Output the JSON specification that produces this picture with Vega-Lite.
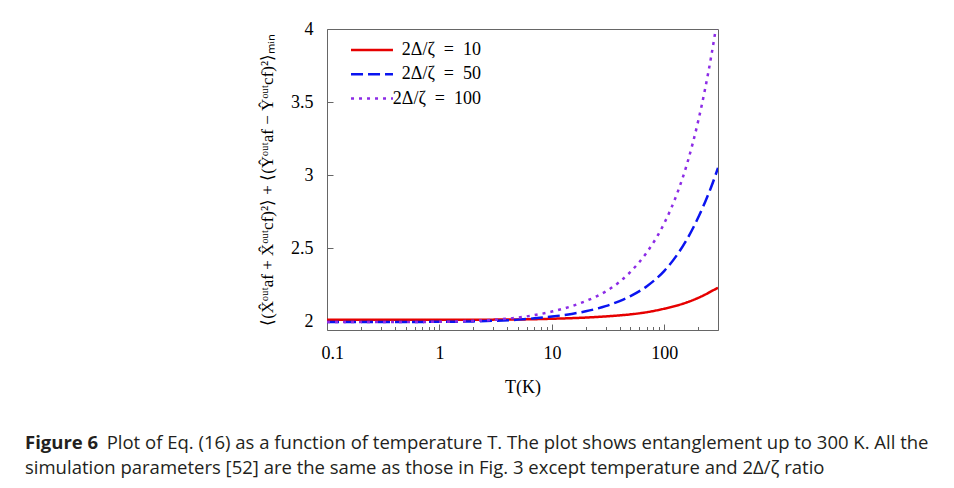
{
  "$schema": "https://vega.github.io/schema/vega-lite/v6.json",
  "width": 391,
  "height": 301,
  "autosize": {"type": "none"},
  "padding": {"left": 327, "top": 29, "right": 236, "bottom": 158},
  "background": "white",
  "config": {
    "view": {"stroke": "#666", "strokeWidth": 1},
    "font": "Liberation Serif"
  },
  "data": {
    "values": [
      {"s": "2Δ/ζ = 10", "T": 0.1, "v": 2.01},
      {"s": "2Δ/ζ = 10", "T": 0.3, "v": 2.01},
      {"s": "2Δ/ζ = 10", "T": 1, "v": 2.01},
      {"s": "2Δ/ζ = 10", "T": 3, "v": 2.011},
      {"s": "2Δ/ζ = 10", "T": 5, "v": 2.012},
      {"s": "2Δ/ζ = 10", "T": 7, "v": 2.014},
      {"s": "2Δ/ζ = 10", "T": 10, "v": 2.017},
      {"s": "2Δ/ζ = 10", "T": 15, "v": 2.021},
      {"s": "2Δ/ζ = 10", "T": 20, "v": 2.025},
      {"s": "2Δ/ζ = 10", "T": 30, "v": 2.033},
      {"s": "2Δ/ζ = 10", "T": 40, "v": 2.04},
      {"s": "2Δ/ζ = 10", "T": 50, "v": 2.047},
      {"s": "2Δ/ζ = 10", "T": 70, "v": 2.062},
      {"s": "2Δ/ζ = 10", "T": 100, "v": 2.086},
      {"s": "2Δ/ζ = 10", "T": 130, "v": 2.108},
      {"s": "2Δ/ζ = 10", "T": 160, "v": 2.13},
      {"s": "2Δ/ζ = 10", "T": 200, "v": 2.16},
      {"s": "2Δ/ζ = 10", "T": 230, "v": 2.182},
      {"s": "2Δ/ζ = 10", "T": 260, "v": 2.204},
      {"s": "2Δ/ζ = 10", "T": 300, "v": 2.229},
      {"s": "2Δ/ζ = 50", "T": 0.1, "v": 1.995},
      {"s": "2Δ/ζ = 50", "T": 0.3, "v": 1.995},
      {"s": "2Δ/ζ = 50", "T": 1, "v": 1.996},
      {"s": "2Δ/ζ = 50", "T": 2, "v": 1.999},
      {"s": "2Δ/ζ = 50", "T": 3, "v": 2.003},
      {"s": "2Δ/ζ = 50", "T": 5, "v": 2.011},
      {"s": "2Δ/ζ = 50", "T": 7, "v": 2.02},
      {"s": "2Δ/ζ = 50", "T": 10, "v": 2.032},
      {"s": "2Δ/ζ = 50", "T": 15, "v": 2.05},
      {"s": "2Δ/ζ = 50", "T": 20, "v": 2.068},
      {"s": "2Δ/ζ = 50", "T": 30, "v": 2.103},
      {"s": "2Δ/ζ = 50", "T": 40, "v": 2.138},
      {"s": "2Δ/ζ = 50", "T": 50, "v": 2.172},
      {"s": "2Δ/ζ = 50", "T": 70, "v": 2.24},
      {"s": "2Δ/ζ = 50", "T": 100, "v": 2.345},
      {"s": "2Δ/ζ = 50", "T": 130, "v": 2.455},
      {"s": "2Δ/ζ = 50", "T": 160, "v": 2.565},
      {"s": "2Δ/ζ = 50", "T": 200, "v": 2.71},
      {"s": "2Δ/ζ = 50", "T": 230, "v": 2.815},
      {"s": "2Δ/ζ = 50", "T": 260, "v": 2.915},
      {"s": "2Δ/ζ = 50", "T": 300, "v": 3.05},
      {"s": "2Δ/ζ = 100", "T": 0.1, "v": 1.995},
      {"s": "2Δ/ζ = 100", "T": 0.3, "v": 1.995},
      {"s": "2Δ/ζ = 100", "T": 1, "v": 1.996},
      {"s": "2Δ/ζ = 100", "T": 2, "v": 2.003},
      {"s": "2Δ/ζ = 100", "T": 3, "v": 2.01},
      {"s": "2Δ/ζ = 100", "T": 5, "v": 2.025},
      {"s": "2Δ/ζ = 100", "T": 7, "v": 2.042},
      {"s": "2Δ/ζ = 100", "T": 10, "v": 2.066},
      {"s": "2Δ/ζ = 100", "T": 15, "v": 2.103},
      {"s": "2Δ/ζ = 100", "T": 20, "v": 2.138},
      {"s": "2Δ/ζ = 100", "T": 30, "v": 2.203},
      {"s": "2Δ/ζ = 100", "T": 40, "v": 2.27},
      {"s": "2Δ/ζ = 100", "T": 50, "v": 2.338},
      {"s": "2Δ/ζ = 100", "T": 70, "v": 2.472},
      {"s": "2Δ/ζ = 100", "T": 100, "v": 2.672},
      {"s": "2Δ/ζ = 100", "T": 130, "v": 2.875},
      {"s": "2Δ/ζ = 100", "T": 160, "v": 3.083},
      {"s": "2Δ/ζ = 100", "T": 200, "v": 3.37},
      {"s": "2Δ/ζ = 100", "T": 230, "v": 3.587},
      {"s": "2Δ/ζ = 100", "T": 260, "v": 3.805},
      {"s": "2Δ/ζ = 100", "T": 280, "v": 3.952},
      {"s": "2Δ/ζ = 100", "T": 300, "v": 4.1}
    ]
  },
  "mark": {"type": "line", "strokeWidth": 2.5, "clip": true, "interpolate": "monotone", "strokeCap": "butt"},
  "encoding": {
    "x": {
      "field": "T",
      "type": "quantitative",
      "title": "T(K)",
      "scale": {"type": "log", "domain": [0.1, 300], "nice": false},
      "axis": {
        "domain": false,
        "grid": false,
        "values": [0.1, 0.2, 0.3, 0.4, 0.5, 0.6, 0.7, 0.8, 0.9, 1, 2, 3, 4, 5, 6, 7, 8, 9, 10, 20, 30, 40, 50, 60, 70, 80, 90, 100, 200, 300],
        "labelExpr": "indexof([0.1, 1, 10, 100], datum.value) >= 0 ? '' + datum.value : ''",
        "tickSize": {"condition": {"test": "indexof([0.1, 1, 10, 100], datum.value) >= 0", "value": -6}, "value": -3.5},
        "tickColor": "#666",
        "labelFont": "Liberation Serif",
        "labelFontSize": 18,
        "labelColor": "black",
        "labelPadding": 20,
        "labelOverlap": false,
        "labelFlush": true,
        "labelFlushOffset": 6,
        "titleFont": "Liberation Serif",
        "titleFontSize": 18,
        "titleFontWeight": "normal",
        "titleColor": "black",
        "titlePadding": 14
      }
    },
    "y": {
      "field": "v",
      "type": "quantitative",
      "title": "⟨(X̂ᵒᵘᵗaf + X̂ᵒᵘᵗcf)²⟩ + ⟨(Ŷᵒᵘᵗaf − Ŷᵒᵘᵗcf)²⟩ₘᵢₙ",
      "scale": {"domain": [1.94, 4], "nice": false, "zero": false},
      "axis": {
        "domain": false,
        "grid": false,
        "values": [2, 2.5, 3, 3.5, 4],
        "labelExpr": "'' + datum.value",
        "tickSize": -6,
        "tickColor": "#666",
        "labelFont": "Liberation Serif",
        "labelFontSize": 18,
        "labelColor": "black",
        "labelPadding": 20,
        "titleFont": "Liberation Serif",
        "titleFontSize": 17,
        "titleFontWeight": "normal",
        "titleColor": "black",
        "titlePadding": 14
      }
    },
    "color": {
      "field": "s",
      "type": "nominal",
      "scale": {"domain": ["2Δ/ζ = 10", "2Δ/ζ = 50", "2Δ/ζ = 100"], "range": ["#e60000", "#0a14f0", "#8c2be6"]},
      "legend": {
        "orient": "none",
        "legendX": 36,
        "legendY": 12,
        "title": null,
        "symbolType": "M-4,0H4",
        "symbolSize": 110,
        "symbolStrokeWidth": 2.5,
        "labelFont": "Liberation Serif",
        "labelFontSize": 18,
        "labelColor": "black",
        "labelAlign": "right",
        "labelOffset": 100,
        "labelExpr": "replace(datum.label, ' = ', '\u00a0\u00a0=\u00a0\u00a0')",
        "rowPadding": 6.3,
        "padding": 0
      }
    },
    "strokeDash": {
      "field": "s",
      "type": "nominal",
      "scale": {"domain": ["2Δ/ζ = 10", "2Δ/ζ = 50", "2Δ/ζ = 100"], "range": [[1, 0], [12, 5], [3, 5]]},
      "legend": null
    }
  },
  "title": {
    "text": "Figure 6",
    "subtitle": ["\u200b\u00a0\u00a0\u00a0\u00a0\u00a0\u00a0\u00a0\u00a0\u00a0\u00a0\u00a0\u00a0\u00a0\u00a0\u00a0\u00a0\u00a0Plot of Eq. (16) as a function of temperature T. The plot shows entanglement up to 300 K. All the", "simulation parameters [52] are the same as those in Fig. 3 except temperature and 2Δ/ζ ratio"],
    "orient": "bottom",
    "anchor": "start",
    "frame": "group",
    "dx": -302,
    "offset": 37,
    "font": "Open Sans",
    "fontSize": 18.5,
    "fontWeight": "bold",
    "color": "#231f20",
    "subtitleFont": "Open Sans",
    "subtitleFontSize": 18.5,
    "subtitleColor": "#231f20",
    "subtitlePadding": -18.5,
    "subtitleLineHeight": 25
  }
}
